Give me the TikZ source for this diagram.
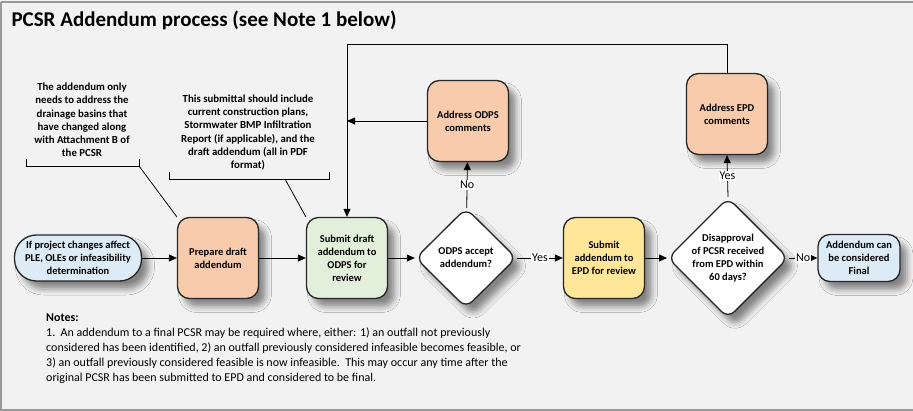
\documentclass[tikz,border=0pt]{standalone}
\usepackage{fontspec}
\setmainfont{Carlito}
\usetikzlibrary{shapes.geometric,arrows.meta,shadows.blur}
\definecolor{bgpanel}{HTML}{F2F2F2}
\definecolor{peach}{HTML}{F8CBAD}
\definecolor{mint}{HTML}{E2EFDA}
\definecolor{sand}{HTML}{FFE699}
\definecolor{sky}{HTML}{DDEBF7}
\tikzset{
  softshadow/.style={blur shadow={shadow xshift=7pt,shadow yshift=-8pt,shadow blur radius=6pt,shadow opacity=45}},
  boxtext/.style={font=\bfseries\fontsize{10.5}{13}\selectfont,align=center,text=black},
  procbox/.style={boxtext,draw=black!85,line width=1.3pt,rounded corners=12pt,
    minimum width=81pt,minimum height=81pt,inner sep=2pt,softshadow},
  endbox/.style={boxtext,draw=black!85,line width=1.3pt,fill=sky,softshadow},
  decision/.style={boxtext,diamond,draw=black!85,line width=1.3pt,fill=white,
    rounded corners=9pt,minimum width=101pt,minimum height=100pt,inner sep=0pt,softshadow},
  flow/.style={line width=0.8pt,-{Triangle[length=8pt,width=7pt]}},
  plainline/.style={line width=0.8pt},
  edgelabel/.style={fill=white,inner sep=1pt,font=\fontsize{12}{13}\selectfont},
  remark/.style={font=\bfseries\fontsize{10.8}{13.3}\selectfont,align=center},
}
\begin{document}
\begin{tikzpicture}[x=1pt,y=-1pt]
\useasboundingbox (0,0) rectangle (913,411);
% panel
\fill[bgpanel] (0,0) rectangle (913,411);
\draw[gray!80,line width=1.5pt] (1,2) -- (913,2);
\draw[gray!80,line width=1.2pt] (1,2) -- (1,410) -- (913,410);
\node[anchor=west,font=\bfseries\fontsize{21}{24}\selectfont] (title) at (8,20) {PCSR Addendum process (see Note 1 below)};

% main flow
\node[endbox,rounded corners=22pt,minimum width=127pt,minimum height=46pt,inner sep=1pt] (start) at (78,258)
  {If project changes affect\\PLE, OLEs or infeasibility\\determination};
\node[procbox,fill=peach] (prep) at (218,258) {Prepare  draft\\addendum};
\node[procbox,fill=mint] (subodps) at (347,258) {Submit draft\\addendum to\\ODPS for\\review};
\node[decision] (odpsq) at (466,258) {ODPS accept\\addendum?};
\node[procbox,fill=sand] (subepd) at (604,258) {Submit\\addendum to\\EPD for review};
\node[decision] (epdq) at (728,258) {Disapproval\\of PCSR received\\from EPD within\\60 days?};
\node[endbox,rounded corners=12pt,minimum width=82pt,minimum height=47pt,inner sep=1pt] (final) at (859,258)
  {Addendum can\\be considered\\Final};
\node[procbox,fill=peach] (odpsc) at (468,121) {Address ODPS\\comments};
\node[procbox,fill=peach] (epdc) at (727,114) {Address EPD\\comments};

\draw[flow] (start) -- (prep);
\draw[flow] (prep) -- (subodps);
\draw[flow] (subodps) -- (odpsq);
\draw[flow] (odpsq) -- node[edgelabel]{Yes} (subepd);
\draw[flow] (subepd) -- (epdq);
\draw[flow] (epdq) -- node[edgelabel]{No} (final);
\draw[flow] (odpsq) -- node[edgelabel]{No} (odpsc);
\draw[flow] (epdq.north) -- node[edgelabel]{Yes} (epdc.south);

% return loop to the ODPS submittal
\coordinate (looptop) at (347,44);
\draw[flow] (epdc.north) |- (looptop) -- (subodps.north);
\draw[flow] (odpsc.west) -- (odpsc.west -| looptop);

% annotations
\node[remark] (note1) at (82,120)
  {The addendum only\\needs to address the\\drainage basins that\\have changed along\\with Attachment B of\\the PCSR};
\coordinate (b1r) at (139,166);
\draw[plainline] (26,159) -- (26,166) -- (b1r) -- (139,159);
\draw[plainline] (b1r) -- (prep.north west);

\node[remark] (note2) at (248,132.5)
  {This submittal should include\\current construction plans,\\Stormwater BMP Infiltration\\Report (if applicable), and the\\draft addendum (all in PDF\\format)};
\coordinate (b2m) at (285,179);
\draw[plainline] (169,172) -- (169,179) -- (329,179) -- (329,172);
\draw[plainline] (b2m) -- (subodps.north west);

% notes
\node[anchor=north west,align=left,font=\fontsize{12}{15}\selectfont,inner sep=0pt] (notes) at (46,314)
  {\textbf{Notes:}\\
   1.\ \ An addendum to a final PCSR may be required where, either: 1) an outfall not previously\\
   considered has been identified, 2) an outfall previously considered infeasible becomes feasible, or\\
   3) an outfall previously considered feasible is now infeasible.\ \ This may occur any time after the\\
   original PCSR has been submitted to EPD and considered to be final.};
\end{tikzpicture}
\end{document}
